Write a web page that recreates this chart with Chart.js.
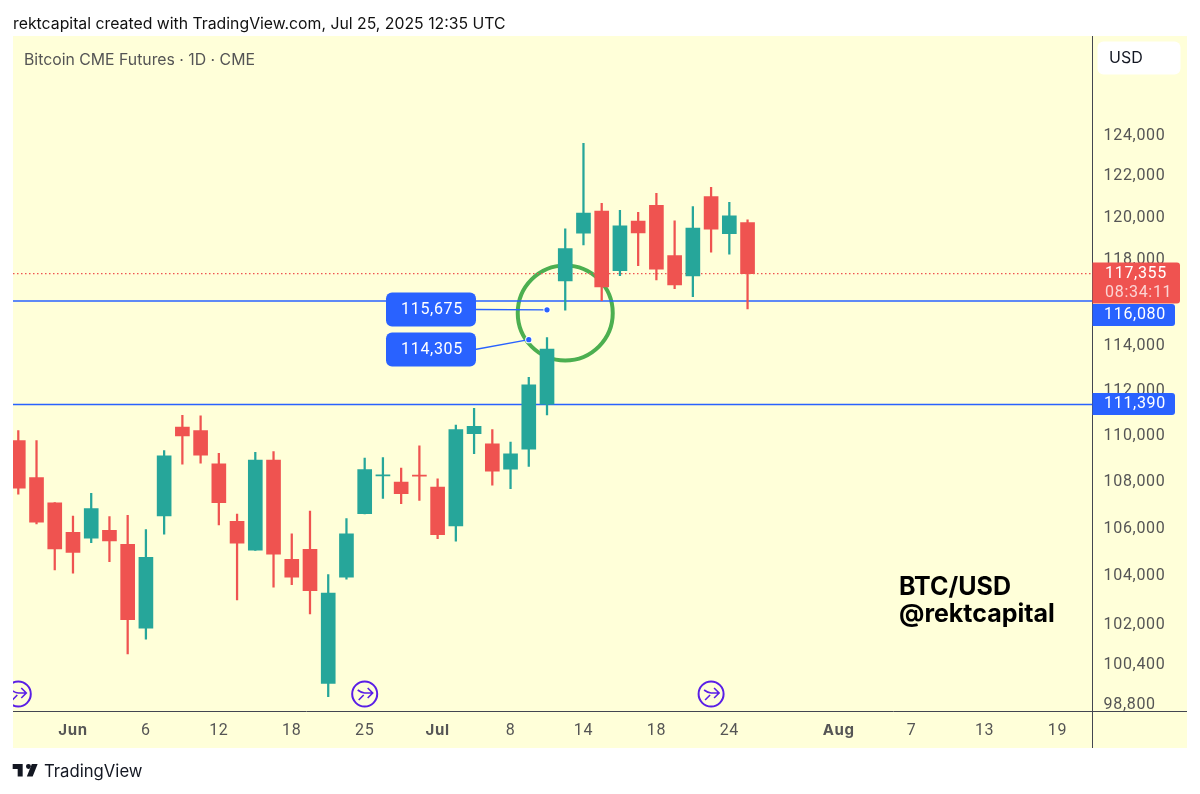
<!DOCTYPE html>
<html>
<head>
<meta charset="utf-8">
<script src="https://cdn.jsdelivr.net/npm/chart.js@4"></script>
<style>
  body { margin: 0; background: #fff; font-family: Inter, sans-serif; }
  #wrap { position: relative; width: 1200px; height: 794px; overflow: hidden; }
  canvas { position: absolute; left: 0; top: 0; }
  .txt { position: absolute; white-space: nowrap; }
  #head { left: 13px; top: 14px; font-size: 15.8px; line-height: 20px; color: #111; }
  #sym { left: 24px; top: 50px; font-size: 15.8px; line-height: 20px; color: #555; }
  #tag { left: 899px; top: 573px; font-size: 25px; line-height: 26.5px; font-weight: 700; color: #000; }
  #foot { left: 44px; top: 760px; font-size: 16.7px; line-height: 22px; color: #131722; }
  #logo { position: absolute; left: 11px; top: 759px; }
</style>
</head>
<body>
<div id="wrap">
  <canvas id="chart" width="1200" height="794"></canvas>
  <div class="txt" id="head">rektcapital created with TradingView.com, Jul 25, 2025 12:35 UTC</div>
  <div class="txt" id="sym">Bitcoin CME Futures · 1D · CME</div>
  <div class="txt" id="tag">BTC/USD<br>@rektcapital</div>
  <svg id="logo" width="30" height="23.3" viewBox="0 0 36 28"><path fill="#131722" d="M14 6H2v6h6v9h6V6zm12 15h-7l6-15h7l-6 15zm-5-9a3 3 0 1 0 0-6 3 3 0 0 0 0 6z"/></svg>
  <div class="txt" id="foot">TradingView</div>
</div>
<script>
var opens = [109795, 108185, 107100, 105850, 105600, 105935, 105345, 101875, 106540, 110385, 110235, 108780, 106315, 105090, 108940, 104715, 105130, 99650, 103970, 106635, 108260, 107985, 108295, 107780, 106115, 110100, 109650, 108550, 109415, 111395, 117015, 119270, 120320, 117500, 119840, 120605, 118205, 117250, 121020, 119250, 119775];
var closes = [107725, 106275, 105145, 105005, 106850, 105485, 102225, 104800, 109125, 110000, 109155, 107105, 105385, 108940, 104925, 103970, 103415, 103315, 105780, 108535, 108305, 107490, 108250, 105750, 110275, 110425, 108465, 109210, 112260, 113880, 118535, 120225, 116735, 119620, 119285, 117565, 116830, 119510, 119460, 120095, 117355];
var highs = [110235, 109795, 107110, 106540, 107510, 106510, 106570, 105960, 109355, 110910, 110880, 109240, 106625, 109285, 109310, 105780, 106750, 104075, 106425, 109025, 109050, 108595, 109560, 108130, 110470, 111220, 110275, 109725, 112605, 114400, 119475, 123625, 120700, 120365, 120270, 121185, 119855, 120540, 121475, 120750, 119905];
var lows = [107465, 106200, 104270, 104135, 105410, 104615, 100835, 101425, 105765, 108765, 108810, 106160, 103025, 105080, 103555, 103660, 102455, 99130, 103885, 106630, 107290, 107060, 107205, 105580, 105470, 109225, 107860, 107705, 108665, 110925, 115655, 118710, 116100, 117265, 117735, 117065, 116655, 116280, 118365, 118270, 115715];

var priceTicks = [124000, 122000, 120000, 118000, 114000, 112000, 110000, 108000, 106000, 104000, 102000, 100400, 98800];
var timeTickSlots = [3, 7, 11, 15, 19, 23, 27, 31, 35, 39, 45, 49, 53, 57];
var timeTickLabels = ["Jun", "6", "12", "18", "25", "Jul", "8", "14", "18", "24", "Aug", "7", "13", "19"];
var monthLabels = ["Jun", "Jul", "Aug"];
var splitSlots = [0, 19, 38];

var lastPrice = 117355;
var lastCountdown = "08:34:11";
var levelPrices = [116080, 111390];
var notePrices = [115675, 114305];
var noteSlots = [29, 28];

var RED = "#EF5350";
var TEAL = "#26A69A";
var BLUE = "#2962FF";
var PURPLE = "#5A1FE6";
var TEXT = "#555555";
var FONT = "Inter, sans-serif";
var NUM_FONT = "Roboto, sans-serif";
var xMin = -0.29;
var xMax = 58.92;

function candleColors() {
  return opens.map(function (o, i) {
    return closes[i] < o ? RED : TEAL;
  });
}

function levelLine(price, color, dash, width) {
  return {
    type: "line",
    data: [{ x: xMin, y: price }, { x: xMax, y: price }],
    borderColor: color,
    borderWidth: width,
    borderDash: dash,
    pointRadius: 0,
    order: 5,
  };
}

function roundBox(ctx, x, y, w, h, r, color) {
  ctx.fillStyle = color;
  ctx.beginPath();
  ctx.roundRect(x, y, w, h, r);
  ctx.fill();
}

function priceTag(ctx, text, y, h, color) {
  roundBox(ctx, 1092.5, y, 82.5, h, [0, 3, 3, 0], color);
  ctx.fillStyle = "#fff";
  ctx.font = "16px " + NUM_FONT;
  ctx.textAlign = "left";
  ctx.textBaseline = "middle";
  ctx.fillText(text, 1104, y + h / 2);
}

var backdrop = {
  id: "backdrop",
  beforeDraw: function (chart) {
    var ctx = chart.ctx;
    // tabular digits in the reference sit a bit wider
    ctx.letterSpacing = "0.7px";
    ctx.save();
    ctx.fillStyle = "#FFFFD9";
    ctx.fillRect(13, 36, 1174, 712);
    ctx.restore();
  },
  beforeDatasetsDraw: function (chart) {
    var ctx = chart.ctx;
    var cx = chart.scales.x.getPixelForValue(30);
    var cy = chart.scales.y.getPixelForValue(115530);
    ctx.save();
    ctx.strokeStyle = "#4CAF50";
    ctx.lineWidth = 4;
    ctx.beginPath();
    ctx.arc(cx, cy, 47.5, 0, Math.PI * 2);
    ctx.stroke();
    ctx.restore();
  },
};

var overlays = {
  id: "overlays",
  afterDraw: function (chart) {
    var ctx = chart.ctx;
    var x = chart.scales.x;
    var y = chart.scales.y;
    var area = chart.chartArea;
    ctx.save();

    // axis lines run past the corner like in tradingview
    ctx.strokeStyle = "#434651";
    ctx.lineWidth = 1;
    ctx.beginPath();
    ctx.moveTo(1092.5, 36);
    ctx.lineTo(1092.5, 748);
    ctx.moveTo(13, 711.5);
    ctx.lineTo(1187, 711.5);
    ctx.stroke();

    // split markers
    ctx.save();
    ctx.beginPath();
    ctx.rect(area.left, area.top, area.right - area.left, area.bottom - area.top);
    ctx.clip();
    splitSlots.forEach(function (s) {
      var px = x.getPixelForValue(s);
      var py = 694;
      ctx.strokeStyle = PURPLE;
      ctx.lineWidth = 2;
      ctx.beginPath();
      ctx.arc(px, py, 12.5, 0, Math.PI * 2);
      ctx.stroke();
      ctx.lineWidth = 1.6;
      ctx.beginPath();
      ctx.moveTo(px - 7, py - 4);
      ctx.quadraticCurveTo(px - 3, py - 1, px, py - 1);
      ctx.lineTo(px + 8, py - 1);
      ctx.moveTo(px + 3, py - 6);
      ctx.lineTo(px + 8, py - 1);
      ctx.lineTo(px + 3, py + 4);
      ctx.moveTo(px - 6, py + 6);
      ctx.lineTo(px - 1, py + 1);
      ctx.stroke();
    });
    ctx.restore();

    // callouts
    var boxTops = [292.5, 332.5];
    notePrices.forEach(function (p, i) {
      var px = x.getPixelForValue(noteSlots[i]);
      var py = y.getPixelForValue(p);
      var midY = boxTops[i] + 17;
      ctx.strokeStyle = BLUE;
      ctx.lineWidth = 1.3;
      ctx.beginPath();
      ctx.moveTo(475, midY);
      ctx.lineTo(px, py);
      ctx.stroke();
      ctx.fillStyle = "#fff";
      ctx.beginPath();
      ctx.arc(px, py, 3.6, 0, Math.PI * 2);
      ctx.fill();
      ctx.fillStyle = BLUE;
      ctx.beginPath();
      ctx.arc(px, py, 2.6, 0, Math.PI * 2);
      ctx.fill();
      roundBox(ctx, 386, boxTops[i], 90, 34, 6, BLUE);
      ctx.fillStyle = "#fff";
      ctx.font = "16px " + NUM_FONT;
      ctx.textAlign = "center";
      ctx.textBaseline = "middle";
      ctx.fillText(p.toLocaleString("en-US"), 432, midY);
    });

    // currency button and price tags
    roundBox(ctx, 1097.5, 41.5, 83, 33, 6, "#FFFFFF");
    ctx.fillStyle = "#131722";
    ctx.font = "16px " + FONT;
    ctx.textAlign = "left";
    ctx.textBaseline = "middle";
    ctx.letterSpacing = "0px";
    ctx.fillText("USD", 1109, 58);
    ctx.letterSpacing = "0.7px";

    roundBox(ctx, 1092.5, 262.5, 87.5, 41, [0, 3, 3, 0], RED);
    ctx.fillStyle = "#fff";
    ctx.font = "16px " + NUM_FONT;
    ctx.fillText(lastPrice.toLocaleString("en-US"), 1105, 274);
    ctx.fillStyle = "rgba(255,255,255,0.75)";
    ctx.fillText(lastCountdown, 1105, 293);
    priceTag(ctx, levelPrices[0].toLocaleString("en-US"), 304, 22, BLUE);
    priceTag(ctx, levelPrices[1].toLocaleString("en-US"), 393, 22, BLUE);
    ctx.restore();
  },
};

new Chart(document.getElementById("chart"), {
  type: "bar",
  data: {
    datasets: [
      {
        data: opens.map(function (o, i) {
          return { x: i, y: [o, closes[i]] };
        }),
        backgroundColor: candleColors(),
        barThickness: 14,
        grouped: false,
        order: 1,
      },
      {
        data: lows.map(function (l, i) {
          return { x: i, y: [l, highs[i]] };
        }),
        backgroundColor: candleColors(),
        barThickness: 1.6,
        grouped: false,
        order: 2,
      },
      levelLine(lastPrice, RED, [1.5, 2.5], 1.2),
      levelLine(levelPrices[0], BLUE, [], 1.5),
      levelLine(levelPrices[1], BLUE, [], 1.5),
    ],
  },
  options: {
    responsive: false,
    animation: false,
    events: [],
    layout: { padding: { left: 13, top: 36, right: 13, bottom: 46 } },
    plugins: { legend: { display: false }, tooltip: { enabled: false } },
    scales: {
      x: {
        type: "linear",
        offset: false,
        min: xMin,
        max: xMax,
        grid: { display: false, drawTicks: false },
        border: { display: false },
        afterBuildTicks: function (scale) {
          scale.ticks = timeTickSlots.map(function (v) {
            return { value: v };
          });
        },
        afterFit: function (scale) {
          scale.height = 36.5;
        },
        ticks: {
          autoSkip: false,
          maxRotation: 0,
          padding: 10,
          color: TEXT,
          font: function (c) {
            var isMonth = monthLabels.indexOf(timeTickLabels[c.index]) >= 0;
            return isMonth ? { family: FONT, size: 15, weight: "700" } : { family: NUM_FONT, size: 16, weight: "400" };
          },
          callback: function (value, index) {
            return timeTickLabels[index];
          },
        },
      },
      y: {
        type: "logarithmic",
        position: "right",
        min: 98542,
        max: 129032,
        grid: { display: false, drawTicks: false },
        border: { display: false },
        afterBuildTicks: function (scale) {
          scale.ticks = priceTicks.map(function (v) {
            return { value: v };
          });
        },
        afterFit: function (scale) {
          scale.width = 94.5;
        },
        ticks: {
          autoSkip: false,
          padding: 11,
          color: TEXT,
          font: { family: NUM_FONT, size: 16 },
          callback: function (value) {
            return value.toLocaleString("en-US");
          },
        },
      },
    },
  },
  plugins: [backdrop, overlays],
});
</script>
</body>
</html>
